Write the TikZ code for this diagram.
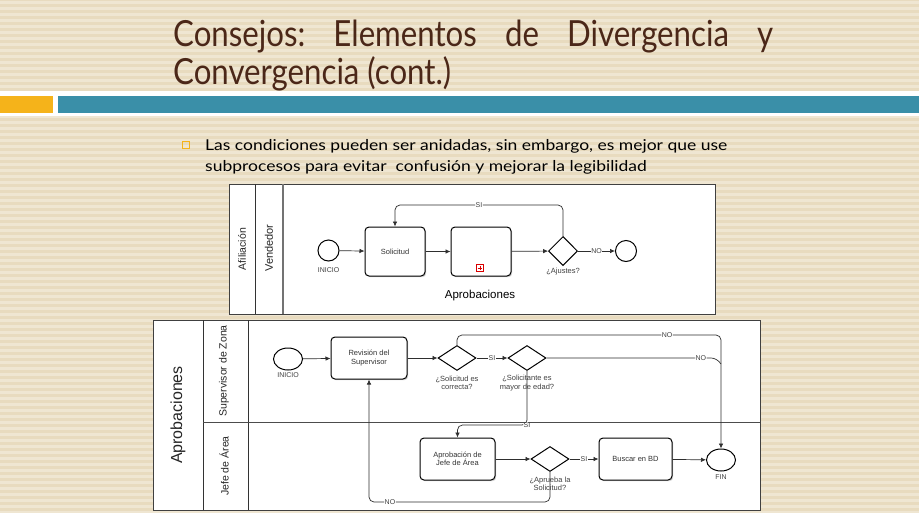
\documentclass[tikz,border=0pt]{standalone}
\usepackage{fontspec}
\setmainfont{Liberation Sans}
\newfontfamily\titlefont{Lato}
\usetikzlibrary{arrows.meta,shapes.geometric,shadows,calc}
\definecolor{bgbase}{HTML}{E8DBBF}
\definecolor{bgstripe}{HTML}{EFE6D2}
\definecolor{titlebrown}{HTML}{4B2718}
\definecolor{barteal}{HTML}{3A8FA8}
\definecolor{barorange}{HTML}{F5B31A}
\definecolor{flowgray}{HTML}{2E2E2E}
\begin{document}
\begin{tikzpicture}[x=1pt,y=-1pt,
  poolbox/.style={draw=black!75, fill=white, line width=0.9pt},
  task/.style={draw=black, rounded corners=4pt, line width=1pt, fill=white,
    align=center, inner sep=1pt, font=\fontsize{7.5}{8.5}\selectfont, text=black!80,
    drop shadow={shadow xshift=1.2pt, shadow yshift=-1.2pt, opacity=0.3, fill=black!60}},
  gate/.style={diamond, draw=black, line width=1pt, fill=white, inner sep=0pt,
    minimum width=29pt, minimum height=29pt},
  gatetwo/.style={gate, minimum width=38pt, minimum height=25pt},
  evt/.style={circle, draw=black, line width=1pt, fill=white, inner sep=0pt, minimum size=21pt},
  evttwo/.style={ellipse, draw=black, line width=1pt, fill=white, inner sep=0pt,
    minimum width=29pt, minimum height=22pt},
  flow/.style={draw=flowgray, line width=0.7pt, -{Latex[length=5pt,width=4.5pt]}},
  plain/.style={draw=flowgray, line width=0.7pt},
  lbl/.style={font=\fontsize{7.5}{8.5}\selectfont, text=black!75, align=center, inner sep=0pt},
  flab/.style={font=\fontsize{7}{8}\selectfont, text=black!75, fill=white, inner sep=0.6pt},
  lane/.style={rotate=90, text=black!85, inner sep=0pt}
]
\useasboundingbox (0,0) rectangle (919,512);
% background
\fill[bgbase] (0,0) rectangle (919,512);
\foreach \i in {0,...,85} {
  \fill[bgstripe] (0,{\i*6+1}) rectangle (919,{\i*6+4});
}
% title
\node[anchor=base west, inner sep=0pt, text=titlebrown] (t1) at (173,46)
  {\scalebox{0.867}[1]{\makebox[692pt][s]{\titlefont\fontsize{36}{40}\selectfont Consejos:\hfill Elementos\hfill de\hfill Divergencia\hfill y}}};
\node[anchor=base west, inner sep=0pt, text=titlebrown] (t2) at (173,84)
  {\scalebox{0.867}[1]{\titlefont\fontsize{36}{40}\selectfont Convergencia (cont.)}};
% bars
\fill[white] (0,91) rectangle (919,116);
\fill[barorange] (0,96) rectangle (53,113);
\fill[barteal] (58,96) rectangle (919,113);
% bullet text
\draw[barorange, line width=0.9pt] (182.5,141.5) rectangle (189.5,148.5);
\node[anchor=base west, inner sep=0pt] (b1) at (205,150)
  {\scalebox{1.167}[1]{\titlefont\fontsize{15}{18}\selectfont Las condiciones pueden ser anidadas, sin embargo, es mejor que use}};
\node[anchor=base west, inner sep=0pt] (b2) at (205,171)
  {\scalebox{1.167}[1]{\titlefont\fontsize{15}{18}\selectfont subprocesos para evitar\ \ confusión y mejorar la legibilidad}};

% ===== top diagram =====
\draw[poolbox] (229,184) rectangle (715,314);
\draw[black!80, line width=0.8pt] (255,184) -- (255,314);
\draw[black!55, line width=1.4pt] (283,184) -- (283,314);
\node[lane, font=\fontsize{10.5}{12}\selectfont] (afi) at (242,249) {Afiliación};
\node[lane, font=\fontsize{11}{12}\selectfont] (ven) at (269,248) {Vendedor};

\node[evt] (s1) at (328.5,250.5) {};
\node[lbl, font=\fontsize{7}{8}\selectfont] (s1l) at (328.5,270) {INICIO};
\node[task, minimum width=60pt, minimum height=49pt] (sol) at (395,251.5) {Solicitud};
\node[task, minimum width=60pt, minimum height=49pt] (apr) at (481,251.5) {};
\node[draw=red!85!black, line width=0.6pt, minimum size=7pt, inner sep=0pt] (mk) at (480,268) {};
\draw[red!85!black, line width=0.7pt] ($(mk.center)+(-2.3,0)$) -- ($(mk.center)+(2.3,0)$)
  ($(mk.center)+(0,-2.3)$) -- ($(mk.center)+(0,2.3)$);
\node[gate] (g1) at (563,251) {};
\node[lbl] (g1l) at (563,272) {¿Ajustes?};
\node[evt] (e1) at (626,251) {};
\node[font=\fontsize{11.5}{13}\selectfont, inner sep=0pt] (aprl) at (480,296) {Aprobaciones};

\draw[flow] (s1) -- (sol);
\draw[flow] (sol) -- (apr);
\draw[flow] (apr) -- (g1);
\draw[flow] (g1) -- node[flab]{NO} (e1);
\draw[flow, rounded corners=5pt] (g1.north) -- ++(0,-31) -| node[flab, pos=0.25]{SI} (sol.north);

% ===== bottom diagram =====
\draw[poolbox] (153,320) rectangle (760,510);
\draw[black!80, line width=0.9pt] (203,320) -- (203,510);
\draw[black!80, line width=0.9pt] (248,320) -- (248,510);
\draw[black!70, line width=0.9pt] (203,422) -- (760,422);
\node[lane, font=\fontsize{16}{18}\selectfont] (apl) at (178,415) {Aprobaciones};
\node[lane, font=\fontsize{10.5}{12}\selectfont] (sup) at (224,371) {Supervisor de Zona};
\node[lane, font=\fontsize{10.5}{12}\selectfont] (jef) at (224,466) {Jefe de Área};

\node[evttwo] (s2) at (288,359) {};
\node[lbl, font=\fontsize{7}{8}\selectfont] (s2l) at (288,375) {INICIO};
\node[task, minimum width=76pt, minimum height=42pt] (rev) at (369,358) {Revisión del\\Supervisor};
\node[gatetwo] (g2) at (457,358) {};
\node[lbl] (g2l) at (457,383) {¿Solicitud es\\correcta?};
\node[gatetwo] (g3) at (527,358) {};
\node[lbl] (g3l) at (527,383) {¿Solicitante es\\mayor de edad?};
\node[task, minimum width=75pt, minimum height=42pt] (aj) at (457.5,459) {Aprobación de\\Jefe de Área};
\node[gatetwo] (g4) at (550,459) {};
\node[lbl] (g4l) at (550,484) {¿Aprueba la\\Solicitud?};
\node[task, minimum width=73pt, minimum height=42pt] (bd) at (635.5,459) {Buscar en BD};
\node[evttwo] (fin) at (721,460) {};
\node[lbl, font=\fontsize{7}{8}\selectfont] (finl) at (721,477) {FIN};

\coordinate (siy) at (0,425);
\coordinate (noy) at (0,358);

\draw[flow] (s2) -- (rev);
\draw[flow] (rev) -- (g2);
\draw[flow] (g2) -- node[flab]{SI} (g3);
\draw[flow] (aj) -- (g4);
\draw[flow] (g4) -- node[flab]{SI} (bd);
\draw[flow] (bd) -- (fin);
\draw[flow, rounded corners=5pt] (g2.north) -- ++(0,-10) -| node[flab, pos=0.398]{NO} (fin.north);
\draw[plain, rounded corners=5pt] (g3.east) -- node[flab, pos=0.91]{NO} ($(fin.north |- noy)+(-5,0)$) -- ($(fin.north |- noy)+(0,6)$);
\draw[flow, rounded corners=5pt] (g3.south) -- (g3.south |- siy) node[flab]{SI} -| (aj.north);
\draw[flow, rounded corners=5pt] (g4.south) -- ++(0,30) -| node[flab, pos=0.442]{NO} (rev.south);
\end{tikzpicture}
\end{document}
